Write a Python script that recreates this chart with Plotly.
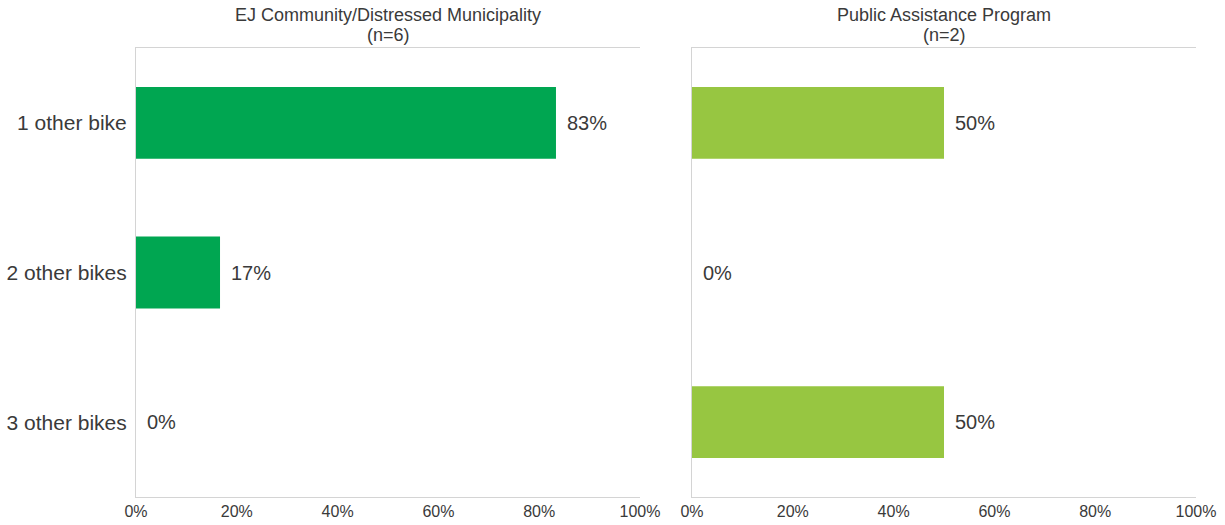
import plotly.graph_objects as go

categories = ["1 other bike", "2 other bikes", "3 other bikes"]
ej_values = [83.33, 16.67, 0]
pa_values = [50, 0, 50]
title_lines = [["EJ Community/Distressed Municipality", "(n=6)"],
               ["Public Assistance Program", "(n=2)"]]
tick_vals = [0, 20, 40, 60, 80, 100]
tick_text = ["0%", "20%", "40%", "60%", "80%", "100%"]

FONT = "Liberation Sans, Arial, sans-serif"
TEXT = "#3a3a3a"
AXIS = "#d4d4d4"
W, H = 1225, 525
panels = [[136, 640], [692, 1196]]

fig = go.Figure()

for i, (vals, color) in enumerate([(ej_values, "#00A651"), (pa_values, "#97C641")]):
    xa = "x" if i == 0 else "x2"
    ya = "y" if i == 0 else "y2"
    fig.add_trace(go.Bar(
        y=categories, x=vals, orientation="h",
        marker=dict(color=color, line=dict(width=0)),
        width=0.48, xaxis=xa, yaxis=ya, showlegend=False,
    ))
    # value labels just past the end of each bar
    for cat, v in zip(categories, vals):
        fig.add_annotation(
            x=v, y=cat, xref=xa, yref=ya, text=f"{v:.0f}%",
            xanchor="left", yanchor="middle", xshift=9, showarrow=False,
            font=dict(size=20, color=TEXT, family=FONT),
        )

xcommon = dict(range=[0, 100], tickvals=tick_vals, ticktext=tick_text,
               showgrid=False, zeroline=False, showline=True, linecolor=AXIS,
               linewidth=1, mirror=True, ticks="", automargin=False,
               tickfont=dict(size=16, color=TEXT, family=FONT))
ycommon = dict(categoryorder="array", categoryarray=categories[::-1],
               showgrid=False, zeroline=False, showline=True, linecolor=AXIS,
               linewidth=1, ticks="", range=[-0.5, 2.5], automargin=False)

ydom = [1 - 497 / H, 1 - 48 / H]
fig.update_layout(
    width=W, height=H,
    margin=dict(l=0, r=0, t=0, b=0),
    paper_bgcolor="white", plot_bgcolor="white",
    font=dict(family=FONT, color=TEXT),
    xaxis=dict(domain=[panels[0][0] / W, panels[0][1] / W], anchor="y", **xcommon),
    xaxis2=dict(domain=[panels[1][0] / W, panels[1][1] / W], anchor="y2", **xcommon),
    yaxis=dict(domain=ydom, anchor="x", showticklabels=True,
               tickfont=dict(size=21, color=TEXT, family=FONT),
               ticklabelstandoff=4, **ycommon),
    yaxis2=dict(domain=ydom, anchor="x2", showticklabels=False, **ycommon),
)

# two-line panel titles, set as separate lines for tight spacing
for lines, dom in zip(title_lines, panels):
    for line, ypix in zip(lines, [15.5, 35]):
        fig.add_annotation(
            text=line, x=(dom[0] + dom[1]) / 2 / W, xref="paper",
            y=1 - ypix / H, yref="paper", yanchor="middle", xanchor="center",
            showarrow=False, borderpad=0,
            font=dict(size=18, color=TEXT, family=FONT),
        )

fig.write_html("out.html")
